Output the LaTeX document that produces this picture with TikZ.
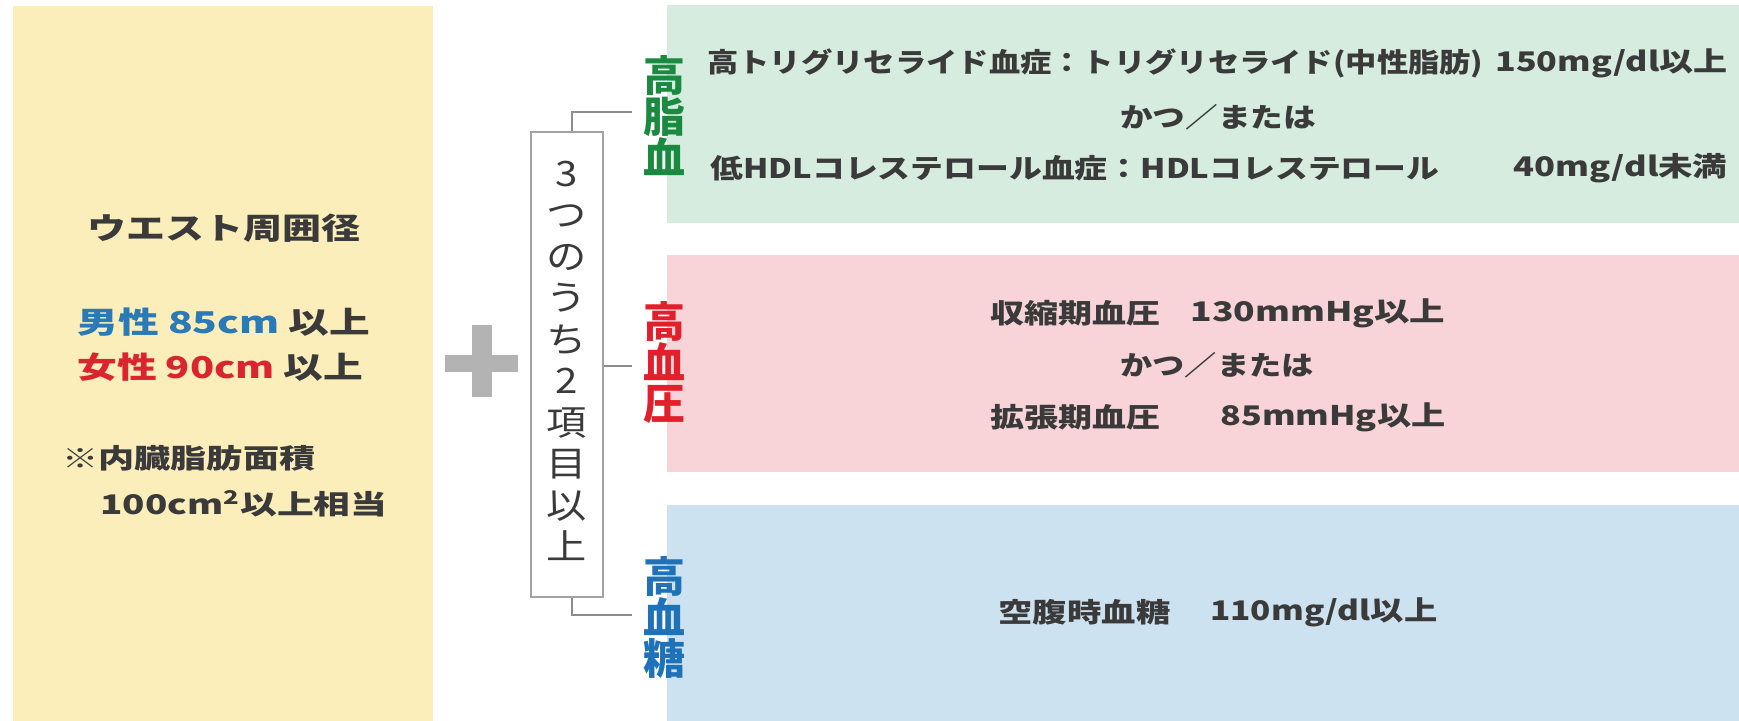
\documentclass[tikz,border=0pt]{standalone}
\usepackage{graphicx}
\usepackage{fontspec}
\setmainfont{Noto Sans CJK JP}
\definecolor{txt}{HTML}{3A3A3A}
\definecolor{yel}{HTML}{FCEEBB}
\definecolor{grn}{HTML}{D6ECDF}
\definecolor{pnk}{HTML}{F8D4D8}
\definecolor{blu}{HTML}{CDE2F0}
\definecolor{lgrn}{HTML}{1A8A40}
\definecolor{lred}{HTML}{E2202C}
\definecolor{lblu}{HTML}{1F72B8}
\definecolor{mblu}{HTML}{2A7AB8}
\definecolor{wred}{HTML}{DA2530}
\definecolor{plusgray}{HTML}{B3B3B3}
\definecolor{linegray}{HTML}{8C8C8C}
\newcommand{\fw}[2]{\resizebox{#1}{\height}{#2}}
\tikzset{
  ptext/.style={inner sep=0pt, anchor=west, text=txt, font=\bfseries\fontsize{13.5}{15}\selectfont},
  ctext/.style={inner sep=0pt, text=txt, font=\bfseries\fontsize{13.5}{15}\selectfont},
  ltext/.style={inner sep=0pt, anchor=west, text=txt, font=\bfseries\fontsize{15}{17}\selectfont},
  ntext/.style={inner sep=0pt, anchor=west, text=txt, font=\bfseries\fontsize{13.5}{15}\selectfont},
  vlabel/.style={inner sep=0pt, align=center, font=\bfseries\fontsize{21}{20.5}\selectfont},
  conn/.style={draw=linegray, line width=0.8pt},
}
\begin{document}
\begin{tikzpicture}[x=0.5pt,y=-0.5pt]
\useasboundingbox (0,0) rectangle (1739,721);
\fill[white] (0,0) rectangle (1739,721);
% panels
\fill[yel] (13,6) rectangle (433,721);
\fill[grn] (667,5) rectangle (1739,223);
\fill[pnk] (667,255) rectangle (1739,472);
\fill[blu] (667,505) rectangle (1739,721);
% left texts
\node[ltext] (waist) at (87,228) {\fw{136.5pt}{ウエスト周囲径}};
\node[ltext] (male) at (77,322) {\fw{146.5pt}{\textcolor{mblu}{男性 85cm} 以上}};
\node[ltext] (female) at (77,367) {\fw{143pt}{\textcolor{wred}{女性 90cm} 以上}};
\node[ntext] (note1) at (62,458) {\fw{126.5pt}{※内臓脂肪面積}};
\node[ntext] (note2) at (100,504) {\fw{143.5pt}{100cm\textsuperscript{2}以上相当}};
% plus
\fill[plusgray] (445,355) rectangle (518,372);
\fill[plusgray] (472,325) rectangle (492,397);
% box
\node[draw=linegray!80, line width=0.8pt, fill=white, minimum width=36pt, minimum height=232.5pt, inner sep=0pt, text=txt, font=\fontsize{17.5}{20.75}\selectfont] (box) at (567,364.5) {\scalebox{1.15}[1]{\begin{tabular}{@{}c@{}}3\\つ\\の\\う\\ち\\2\\項\\目\\以\\上\end{tabular}}};
% labels
\node[vlabel, text=lgrn] (lipid) at (664,116) {高\\脂\\血};
\node[vlabel, text=lred] (bp) at (664,363) {高\\血\\圧};
\node[vlabel, text=lblu] (sugar) at (664,617) {高\\血\\糖};
% connectors
\coordinate (c1) at (632,112);
\coordinate (c2) at (632,366);
\coordinate (c3) at (632,615);
\draw[conn] ([xshift=2.5pt]box.north) |- (c1);
\draw[conn] (box.east |- c2) -- (c2);
\draw[conn] ([xshift=2.5pt]box.south) |- (c3);
% panel 1
\node[ptext] (t1a) at (707,63) {\fw{388pt}{高トリグリセライド血症：トリグリセライド(中性脂肪)}};
\node[ptext] (t1b) at (1495,63) {\fw{116pt}{150mg/dl以上}};
\node[ctext] (t1c) at (1218,117) {\fw{98pt}{かつ／または}};
\node[ptext] (t1d) at (710,168) {\fw{364.5pt}{低HDLコレステロール血症：HDLコレステロール}};
\node[ptext] (t1e) at (1513,168) {\fw{107pt}{40mg/dl未満}};
% panel 2
\node[ptext] (t2a) at (990,313) {\fw{85pt}{収縮期血圧}};
\node[ptext] (t2b) at (1190,313) {\fw{127.5pt}{130mmHg以上}};
\node[ctext] (t2c) at (1217,365) {\fw{96.5pt}{かつ／または}};
\node[ptext] (t2d) at (990,417) {\fw{85pt}{拡張期血圧}};
\node[ptext] (t2e) at (1220,417) {\fw{112.5pt}{85mmHg以上}};
% panel 3
\node[ptext] (t3a) at (998,612) {\fw{86pt}{空腹時血糖}};
\node[ptext] (t3b) at (1210,612) {\fw{113.5pt}{110mg/dl以上}};
\end{tikzpicture}
\end{document}
